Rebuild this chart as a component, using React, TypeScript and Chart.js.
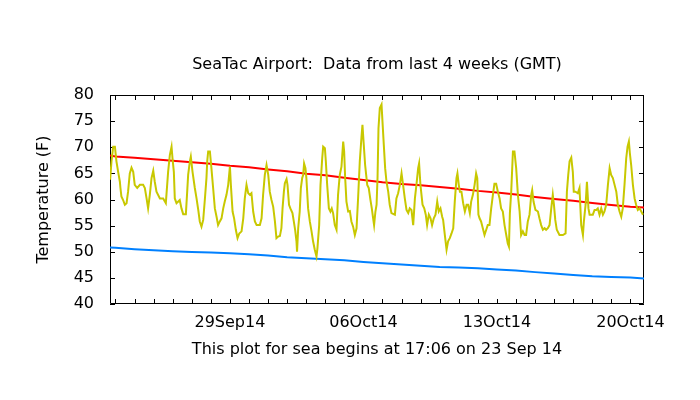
import React, { useEffect, useRef } from 'react';
import { Chart, registerables } from 'chart.js';

Chart.register(...registerables);

// x values are days counted from 00:00 on the first full day (24 Sep)
const startDay = -0.2875; // 17:06 on 23 Sep 14
const endDay = 27.7125;

const obsDays = [
  -0.28, -0.21, -0.12, -0.03, 0.05, 0.14, 0.23, 0.26, 0.31, 0.4, 0.49, 0.58, 0.66, 0.75, 0.84, 0.93,
  1.01, 1.14, 1.28, 1.45, 1.54, 1.63, 1.71, 1.8, 1.89, 1.98, 2.06, 2.15, 2.33, 2.5, 2.64, 2.76, 2.85,
  2.94, 2.99, 3.06, 3.11, 3.2, 3.37, 3.46, 3.55, 3.69, 3.76, 3.81, 3.9, 3.95, 4.04, 4.16, 4.25, 4.34,
  4.42, 4.51, 4.6, 4.69, 4.77, 4.81, 4.86, 4.95, 5.03, 5.12, 5.21, 5.3, 5.38, 5.47, 5.56, 5.65, 5.73,
  5.82, 5.91, 6.0, 6.05, 6.14, 6.22, 6.31, 6.4, 6.49, 6.61, 6.7, 6.78, 6.87, 6.96, 7.05, 7.13, 7.22,
  7.31, 7.4, 7.57, 7.66, 7.74, 7.83, 7.92, 8.01, 8.09, 8.18, 8.27, 8.36, 8.44, 8.53, 8.62, 8.7, 8.76,
  8.83, 8.88, 8.97, 9.02, 9.1, 9.17, 9.28, 9.35, 9.42, 9.49, 9.52, 9.58, 9.66, 9.72, 9.79, 9.84, 9.89,
  9.96, 10.01, 10.1, 10.19, 10.28, 10.36, 10.45, 10.54, 10.59, 10.68, 10.75, 10.84, 10.89, 10.98,
  11.03, 11.1, 11.19, 11.27, 11.34, 11.41, 11.5, 11.59, 11.67, 11.76, 11.85, 11.94, 11.99, 12.04,
  12.11, 12.2, 12.29, 12.37, 12.46, 12.55, 12.64, 12.72, 12.81, 12.9, 12.95, 13.02, 13.09, 13.2,
  13.28, 13.37, 13.44, 13.51, 13.56, 13.63, 13.69, 13.74, 13.79, 13.86, 13.95, 14.0, 14.07, 14.14,
  14.21, 14.3, 14.38, 14.47, 14.65, 14.73, 14.82, 14.91, 15.0, 15.08, 15.17, 15.26, 15.35, 15.43,
  15.52, 15.61, 15.7, 15.78, 15.87, 15.92, 15.99, 16.1, 16.19, 16.27, 16.34, 16.43, 16.52, 16.6,
  16.69, 16.78, 16.87, 16.95, 17.04, 17.13, 17.18, 17.27, 17.36, 17.44, 17.53, 17.62, 17.71, 17.79,
  17.88, 17.93, 18.0, 18.06, 18.14, 18.23, 18.32, 18.41, 18.49, 18.58, 18.65, 18.74, 18.83, 18.91,
  18.97, 19.03, 19.09, 19.17, 19.26, 19.35, 19.44, 19.52, 19.61, 19.7, 19.79, 19.87, 19.96, 20.05,
  20.14, 20.22, 20.31, 20.4, 20.49, 20.57, 20.63, 20.68, 20.75, 20.84, 20.92, 21.01, 21.1, 21.19,
  21.27, 21.36, 21.45, 21.53, 21.62, 21.71, 21.8, 21.85, 21.92, 22.02, 22.15, 22.23, 22.32, 22.41,
  22.5, 22.58, 22.67, 22.76, 22.85, 22.93, 22.99, 23.06, 23.14, 23.28, 23.46, 23.6, 23.67, 23.74,
  23.81, 23.9, 23.98, 24.03, 24.12, 24.24, 24.33, 24.42, 24.51, 24.56, 24.65, 24.72, 24.8, 24.86,
  25.03, 25.12, 25.21, 25.29, 25.38, 25.47, 25.56, 25.64, 25.73, 25.82, 25.91, 25.99, 26.08, 26.17,
  26.26, 26.34, 26.43, 26.52, 26.6, 26.69, 26.78, 26.85, 26.92, 26.97, 27.04, 27.13, 27.22, 27.3,
  27.39, 27.48, 27.57, 27.66,
];

const obsTemps = [
  63.8, 67.3, 70.1, 70.1, 67.3, 65.3, 63.4, 62.2, 60.6, 59.9, 59.0, 59.3, 61.5, 65.0, 66.1, 65.3,
  62.8, 62.2, 62.8, 62.8, 62.2, 60.2, 58.3, 60.9, 64.1, 65.5, 63.4, 61.5, 60.2, 60.2, 59.3, 65.3, 68.5,
  70.1, 67.9, 65.3, 60.2, 59.3, 59.9, 58.3, 57.2, 57.2, 61.5, 64.7, 67.3, 68.2, 65.3, 62.2, 60.2, 58.0,
  55.8, 54.8, 56.1, 60.2, 64.1, 67.3, 69.2, 69.2, 66.0, 62.2, 58.3, 56.7, 55.1, 55.8, 56.4, 58.3, 59.6,
  60.9, 62.8, 66.3, 62.8, 57.7, 56.4, 54.2, 52.6, 53.5, 53.9, 56.4, 60.2, 62.8, 61.2, 60.9, 61.2, 57.7,
  55.8, 55.1, 55.1, 56.4, 60.9, 64.7, 66.6, 64.7, 61.5, 59.9, 58.6, 55.8, 52.6, 52.9, 53.0, 54.5, 58.3,
  61.5, 63.1, 63.9, 62.8, 59.0, 58.3, 57.4, 55.8, 54.2, 52.0, 50.0, 54.5, 57.7, 62.2, 64.1, 64.7, 66.9,
  66.0, 64.1, 58.3, 55.8, 53.9, 52.0, 50.4, 49.1, 50.7, 55.1, 62.8, 67.9, 70.1, 69.8,
  67.3, 62.8, 58.3, 57.7, 58.3, 57.4, 55.1, 54.2, 60.9, 64.7, 66.3, 71.1, 69.2, 64.4,
  59.6, 57.7, 57.8, 55.8, 54.8, 53.2, 54.5, 60.2, 67.3, 72.0, 74.3, 70.4, 66.6, 62.8,
  62.2, 59.9, 58.3, 56.4, 55.1, 57.7, 59.0, 64.1, 73.6, 77.5, 78.2, 74.9, 70.4, 66.0,
  63.4, 61.5, 59.0, 57.4, 57.1, 60.2, 61.2, 62.8, 65.0, 62.8, 60.2, 58.0, 57.4, 58.3,
  58.0, 55.1, 60.2, 62.8, 66.0, 66.9, 62.8, 59.0, 58.3, 57.1, 55.1, 57.1, 56.4, 55.1,
  56.4, 57.1, 59.6, 57.7, 58.3, 56.7, 56.1, 53.2, 50.4, 52.0, 52.6, 53.5, 54.5, 59.6,
  64.1, 65.0, 62.8, 61.5, 61.5, 59.3, 57.7, 59.0, 59.0, 57.4, 59.6, 60.9, 62.8, 65.0,
  64.1, 57.1, 56.4, 55.8, 54.5, 53.2, 54.2, 55.1, 55.1, 58.3, 60.9, 63.0, 63.0, 61.5,
  60.2, 58.3, 57.7, 55.1, 53.2, 51.6, 51.0, 57.4, 61.5, 69.2, 69.2, 66.0, 60.9, 57.7,
  53.2, 53.9, 53.2, 53.2, 55.8, 57.1, 60.9, 61.8, 59.6, 58.0, 57.7, 56.4, 55.1, 54.2,
  54.5, 54.2, 54.5, 55.1, 58.3, 60.9, 59.0, 56.1, 54.2, 53.2, 53.2, 53.5, 61.5, 64.7,
  67.3, 68.0, 65.3, 61.5, 61.5, 61.2, 62.2, 55.1, 53.2, 55.8, 59.0, 63.4, 58.3, 57.1,
  57.1, 58.0, 58.0, 58.3, 57.1, 58.3, 57.1, 57.7, 59.0, 62.8, 66.0, 64.7, 64.1, 62.8,
  61.5, 59.0, 57.7, 56.7, 58.3, 62.8, 67.9, 70.1, 71.1, 68.9, 66.6, 62.8, 60.2, 59.0,
  58.0, 58.3, 57.7, 57.1,
];

const normDays = [
  -0.2875, 0, 1, 2, 3, 4, 5, 6, 7, 8, 9, 10, 11, 12, 13, 14, 15, 16, 17, 18, 19, 20, 21, 22, 23, 24,
  25, 26, 27, 27.7125,
];
const normHigh = [
  68.4, 68.25, 68.0, 67.7, 67.4, 67.15, 66.85, 66.45, 66.15, 65.75, 65.4, 64.95, 64.65, 64.15, 63.75,
  63.3, 62.95, 62.75, 62.4, 62.05, 61.65, 61.35, 60.95, 60.5, 60.1, 59.75, 59.35, 58.95, 58.6, 58.45,
];
const normLow = [
  50.8, 50.75, 50.5, 50.3, 50.1, 49.95, 49.85, 49.7, 49.5, 49.3, 48.95, 48.75, 48.55, 48.35, 48.05,
  47.8, 47.55, 47.3, 47.1, 47.0, 46.85, 46.6, 46.4, 46.1, 45.85, 45.55, 45.3, 45.15, 45.05, 44.9,
];

const dayTicks = Array.from({ length: 28 }, (_, i) => i);
const labelDays = [6, 13, 20, 27];
const labelTexts = ['29Sep14', '06Oct14', '13Oct14', '20Oct14'];
const tempTicks = [40, 45, 50, 55, 60, 65, 70, 75, 80];

const FONT = 'DejaVu Sans';
const FS = 16;

// gnuplot style box with inward tick marks on all four sides
const framePlugin = {
  id: 'frame',
  beforeDatasetsDraw(chart) {
    const { ctx, chartArea: a, scales } = chart;
    const len = 5;
    ctx.save();
    ctx.strokeStyle = '#000';
    ctx.lineWidth = 1;
    ctx.beginPath();
    ctx.rect(a.left + 0.5, a.top + 0.5, a.right - a.left - 1, a.bottom - a.top - 1);
    dayTicks.forEach((d) => {
      const x = Math.round(scales.x.getPixelForValue(d)) + 0.5;
      ctx.moveTo(x, a.bottom);
      ctx.lineTo(x, a.bottom - len);
      ctx.moveTo(x, a.top);
      ctx.lineTo(x, a.top + len);
    });
    tempTicks.forEach((t) => {
      const y = Math.round(scales.y.getPixelForValue(t)) + 0.5;
      ctx.moveTo(a.left, y);
      ctx.lineTo(a.left + len, y);
      ctx.moveTo(a.right, y);
      ctx.lineTo(a.right - len, y);
    });
    ctx.stroke();
    ctx.restore();
  },
};

const App = () => {
  const canvasRef = useRef(null);

  useEffect(() => {
    const ctx = canvasRef.current.getContext('2d');
    const c = new Chart(ctx, {
      type: 'line',
      data: {
        datasets: [
          {
            data: obsDays.map((d, i) => ({ x: d, y: obsTemps[i] })),
            borderColor: '#c8c800',
            borderWidth: 2,
            pointRadius: 0,
            tension: 0,
          },
          {
            data: normDays.map((d, i) => ({ x: d, y: normHigh[i] })),
            borderColor: '#ff0000',
            borderWidth: 2,
            pointRadius: 0,
            tension: 0,
          },
          {
            data: normDays.map((d, i) => ({ x: d, y: normLow[i] })),
            borderColor: '#0080ff',
            borderWidth: 2,
            pointRadius: 0,
            tension: 0,
          },
        ],
      },
      options: {
        animation: false,
        responsive: false,
        layout: { padding: { left: 0, right: 56, top: 0, bottom: 0 } },
        plugins: {
          legend: { display: false },
          tooltip: { enabled: false },
          title: {
            display: true,
            fullSize: false,
            text: 'SeaTac Airport:  Data from last 4 weeks (GMT)',
            color: '#000',
            font: { family: FONT, size: FS, weight: 'normal', lineHeight: 1.2 },
            padding: { top: 55.4, bottom: 20.4 },
          },
        },
        scales: {
          x: {
            type: 'linear',
            min: startDay,
            max: endDay,
            afterFit: (s) => {
              s.height = 96;
            },
            afterBuildTicks: (s) => {
              s.ticks = dayTicks.map((v) => ({ value: v }));
            },
            grid: { display: false, drawTicks: false },
            border: { display: false },
            ticks: {
              autoSkip: false,
              maxRotation: 0,
              minRotation: 0,
              padding: 9.4,
              color: '#000',
              font: { family: FONT, size: FS },
              callback: (v) => {
                const i = labelDays.indexOf(v);
                return i >= 0 ? labelTexts[i] : '';
              },
            },
            title: {
              display: true,
              text: 'This plot for sea begins at 17:06 on 23 Sep 14',
              color: '#000',
              font: { family: FONT, size: FS, lineHeight: 1.2 },
              padding: { top: 0, bottom: 40.4 },
            },
          },
          y: {
            min: 40,
            max: 80,
            afterFit: (s) => {
              s.width = 110;
            },
            grid: { display: false, drawTicks: false },
            border: { display: false },
            ticks: {
              stepSize: 5,
              padding: 16,
              color: '#000',
              font: { family: FONT, size: FS },
            },
            title: {
              display: true,
              text: 'Temperature (F)',
              color: '#000',
              font: { family: FONT, size: FS, lineHeight: 1.2 },
              padding: { top: 34.4, bottom: 0 },
            },
          },
        },
      },
      plugins: [framePlugin],
    });
    return () => {
      c.destroy();
    };
  }, []);

  return (
    <div style={{ position: 'fixed', left: 0, top: 0, width: 700, height: 400, background: '#fff' }}>
      <canvas ref={canvasRef} width={700} height={400} style={{ display: 'block' }} />
    </div>
  );
};

export default App;
